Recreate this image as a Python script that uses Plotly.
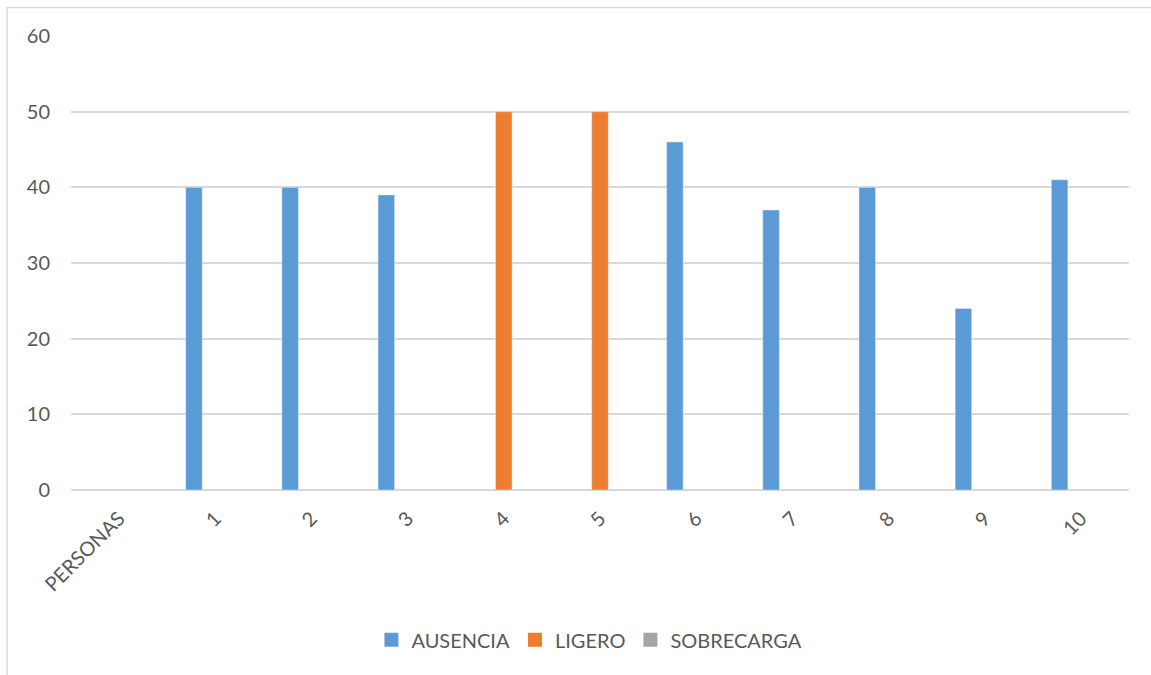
import plotly.graph_objects as go

# Categories along the x axis
categorias = ["PERSONAS", "1", "2", "3", "4", "5", "6", "7", "8", "9", "10"]

# Series values per category (None = no bar)
ausencia = [None, 40, 40, 39, None, None, 46, 37, 40, 24, 41]
ligero = [None, None, None, None, 50, 50, None, None, None, None, None]
sobrecarga = [None, None, None, None, None, None, None, None, None, None, None]

series = [
    ("AUSENCIA", ausencia, "#5B9BD5"),
    ("LIGERO", ligero, "#ED7D31"),
    ("SOBRECARGA", sobrecarga, "#A5A5A5"),
]

y_ticks = [0, 10, 20, 30, 40, 50, 60]

FONT = "Lato"
TEXT = "#595959"
GRID = "#d9d9d9"
SIZE = 20

fig = go.Figure()
for nombre, valores, color in series:
    fig.add_trace(go.Bar(name=nombre, x=categorias, y=valores,
                         marker_color=color, showlegend=False))
# legend entries with square swatches
for nombre, valores, color in series:
    fig.add_trace(go.Scatter(name=nombre, x=[None], y=[None], mode="markers",
                             marker=dict(symbol="square", size=14, color=color,
                                         line=dict(width=0)),
                             showlegend=True, hoverinfo="skip"))

fig.update_layout(
    width=1151,
    height=675,
    margin=dict(l=71, r=22, t=36, b=185),
    paper_bgcolor="white",
    plot_bgcolor="white",
    barmode="group",
    bargap=0.335,
    bargroupgap=0.225,
    font=dict(family=FONT, size=SIZE, color=TEXT),
    legend=dict(
        orientation="h",
        x=0.49,
        xanchor="center",
        y=-0.33,
        yanchor="middle",
        font=dict(family=FONT, size=SIZE, color=TEXT),
        itemwidth=30,
        itemsizing="trace",
        traceorder="normal",
    ),
    xaxis=dict(
        type="category",
        tickangle=-45,
        showgrid=False,
        showline=False,
        ticks="",
        tickfont=dict(family=FONT, size=SIZE, color=TEXT),
        ticklabelstandoff=12,
    ),
    yaxis=dict(
        range=[0, 60],
        tickvals=y_ticks,
        showgrid=True,
        gridcolor=GRID,
        gridwidth=1.5,
        zeroline=True,
        zerolinecolor=GRID,
        zerolinewidth=1.5,
        showline=False,
        ticks="",
        tickfont=dict(family=FONT, size=SIZE, color=TEXT),
        ticklabelstandoff=20,
    ),
    shapes=[
        # chart-area frame
        dict(
            type="rect",
            xref="paper",
            yref="paper",
            x0=-0.0605,
            x1=1.2,
            y0=-0.6,
            y1=1.0628,
            line=dict(color=GRID, width=1.5),
            fillcolor="rgba(0,0,0,0)",
            layer="below",
        )
    ],
)

fig.write_html("out.html")
